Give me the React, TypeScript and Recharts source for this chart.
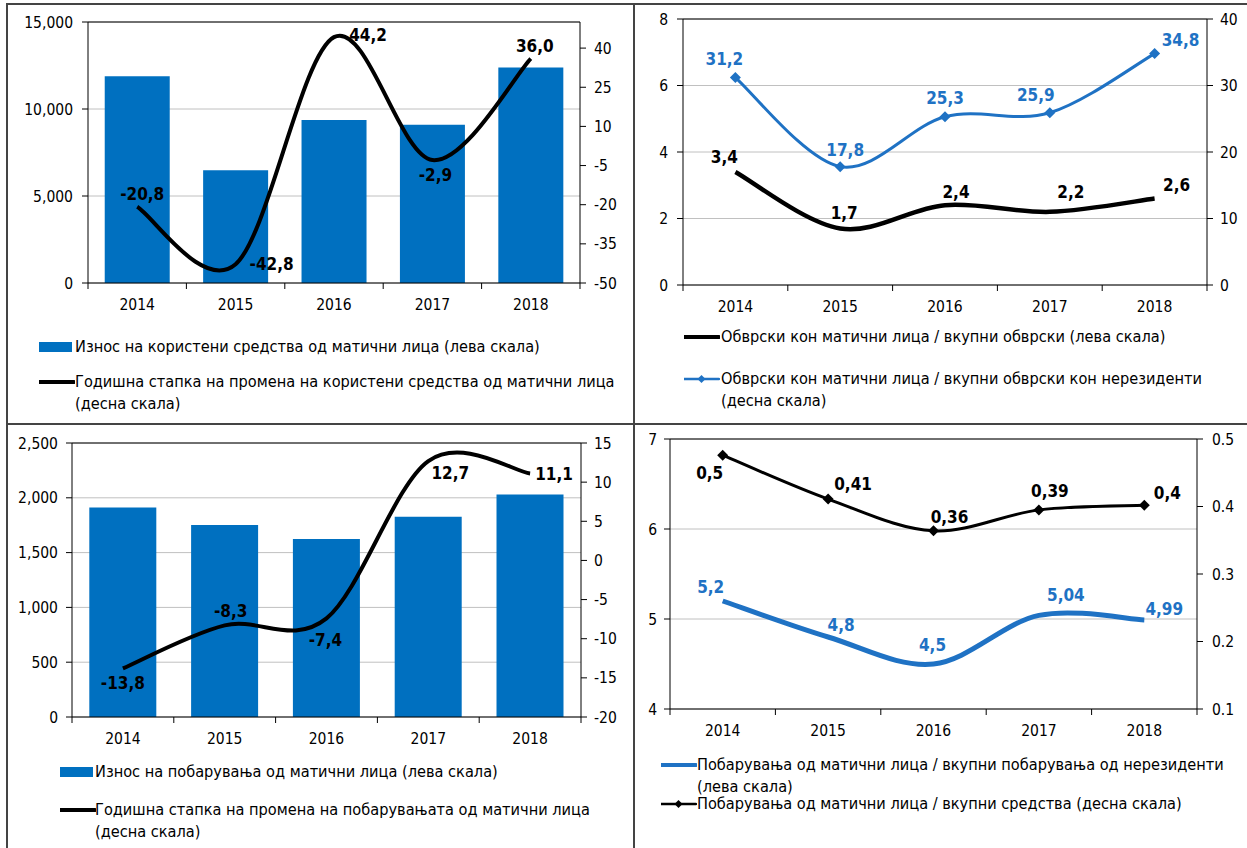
import React from "react";
import {
  Bar,
  CartesianGrid,
  ComposedChart,
  Line,
  ReferenceLine,
  XAxis,
  YAxis,
} from "recharts";

const FONT = "'DejaVu Sans Condensed', 'DejaVu Sans', sans-serif";
const BAR_BLUE = "#0070c0";
const LINE_BLUE = "#1f72c4";

// --- data ---
const years = ["2014", "2015", "2016", "2017", "2018"];

// горе лево
const fundsUsed = [11880, 6480, 9370, 9100, 12380];
const fundsGrowth = [-20.8, -42.8, 44.2, -2.9, 36.0];
const fundsTicks = [0, 5000, 10000, 15000];
const fundsGrowthTicks = [-50, -35, -20, -5, 10, 25, 40];

// горе десно
const liabShareTotal = [3.4, 1.7, 2.4, 2.2, 2.6];
const liabShareNonRes = [31.2, 17.8, 25.3, 25.9, 34.8];
const liabLeftTicks = [0, 2, 4, 6, 8];
const liabRightTicks = [0, 10, 20, 30, 40];

// долу лево
const claimsAmount = [1912, 1751, 1623, 1827, 2031];
const claimsGrowth = [-13.8, -8.3, -7.4, 12.7, 11.1];
const claimsTicks = [0, 500, 1000, 1500, 2000, 2500];
const claimsGrowthTicks = [-20, -15, -10, -5, 0, 5, 10, 15];

// долу десно
const claimsShareNonRes = [5.2, 4.8, 4.5, 5.04, 4.99];
const claimsShareAssets = [0.476, 0.411, 0.364, 0.395, 0.402];
const claimsShareAssetsLabels = ["0,5", "0,41", "0,36", "0,39", "0,4"];
const shareLeftTicks = [4, 5, 6, 7];
const shareRightTicks = [0.1, 0.2, 0.3, 0.4, 0.5];

const fundsData = years.map((year, i) => ({
  year,
  amount: fundsUsed[i],
  growth: fundsGrowth[i],
}));
const liabData = years.map((year, i) => ({
  year,
  total: liabShareTotal[i],
  nonRes: liabShareNonRes[i],
}));
const claimsData = years.map((year, i) => ({
  year,
  amount: claimsAmount[i],
  growth: claimsGrowth[i],
}));
const shareData = years.map((year, i) => ({
  year,
  nonRes: claimsShareNonRes[i],
  assets: claimsShareAssets[i],
}));

// --- layout of the four panels (page pixels) ---
interface Frame {
  left: number;
  top: number;
  width: number;
  height: number;
  plotLeft: number;
  plotRight: number;
  plotTop: number;
  plotBottom: number;
}
const XH = 30;
const P1: Frame = { left: 0, top: 0, width: 634, height: 320, plotLeft: 88, plotRight: 580, plotTop: 22, plotBottom: 283 };
const P2: Frame = { left: 634, top: 0, width: 613, height: 320, plotLeft: 683, plotRight: 1207, plotTop: 19, plotBottom: 285 };
const P3: Frame = { left: 0, top: 424, width: 634, height: 330, plotLeft: 72, plotRight: 581, plotTop: 443, plotBottom: 717 };
const P4: Frame = { left: 634, top: 424, width: 613, height: 330, plotLeft: 670, plotRight: 1197, plotTop: 439, plotBottom: 709 };

const margins = (f: Frame) => ({
  top: f.plotTop - f.top,
  right: 0,
  left: 0,
  bottom: f.top + f.height - f.plotBottom - XH,
});
const leftW = (f: Frame) => f.plotLeft - f.left;
const rightW = (f: Frame) => f.left + f.width - f.plotRight;
const halfBand = (f: Frame) => (f.plotRight - f.plotLeft) / years.length / 2;

// label offsets from each point [dx, dy]
const fundsGrowthOffsets = [[5, -13], [36, 0], [34, -2], [3, 15], [4, -13]];
const liabTotalOffsets = [[-11, -15], [4, -15], [11, -13], [21, -20], [22, -14]];
const liabNonResOffsets = [[-11, -19], [5, -17], [0, -19], [-14, -18], [26, -14]];
const claimsGrowthOffsets = [[0, 15], [6, -14], [-1, 22], [22, 12], [24, 0]];
const shareNonResOffsets = [[-12, -14], [13, -12], [-1, -19], [27, -20], [20, -11]];
const shareAssetsOffsets = [[-13, 18], [25, -15], [16, -14], [11, -19], [23, -12]];

// Excel-like smoothed line: Catmull-Rom through every point
const smooth = (context: any) => {
  let pts: number[][] = [];
  return {
    areaStart() {},
    areaEnd() {},
    lineStart() {
      pts = [];
    },
    point(x: number, y: number) {
      pts.push([+x, +y]);
    },
    lineEnd() {
      const n = pts.length;
      if (!n) return;
      context.moveTo(pts[0][0], pts[0][1]);
      for (let i = 0; i < n - 1; i++) {
        const p0 = pts[i - 1] || pts[i];
        const p1 = pts[i];
        const p2 = pts[i + 1];
        const p3 = pts[i + 2] || p2;
        const t = 1 / 6;
        context.bezierCurveTo(
          p1[0] + (p2[0] - p0[0]) * t,
          p1[1] + (p2[1] - p0[1]) * t,
          p2[0] - (p3[0] - p1[0]) * t,
          p2[1] - (p3[1] - p1[1]) * t,
          p2[0],
          p2[1]
        );
      }
    },
  };
};

const fmt1 = (v: number) => v.toFixed(1).replace(".", ",");
const fmtRaw = (v: number) => String(v).replace(".", ",");
const thousands = (v: number) => v.toLocaleString("en-US");

const AX = { stroke: "#000", strokeWidth: 1 };
const TICK = { fontSize: 15.5, fill: "#000", fontFamily: FONT };

const XTick = ({ x, y, payload, index, half, count }: any) => (
  <g>
    <line x1={x - half} x2={x - half} y1={y} y2={y + 6} stroke="#000" />
    {index === count - 1 && (
      <line x1={x + half} x2={x + half} y1={y} y2={y + 6} stroke="#000" />
    )}
    <text
      x={x}
      y={y + 22}
      textAnchor="middle"
      dominantBaseline="central"
      fontSize={15.5}
      fontFamily={FONT}
      fill="#000"
    >
      {payload.value}
    </text>
  </g>
);

const diamond = (cx: number, cy: number, r: number) =>
  `${cx},${cy - r} ${cx + r},${cy} ${cx},${cy + r} ${cx - r},${cy}`;

// dot renderer: optional diamond marker + bold data label
const pointLabel =
  (texts: string[], offsets: number[][], color: string, marker?: string) =>
  (props: any) => {
    const { cx, cy, index } = props;
    const [dx, dy] = offsets[index];
    return (
      <g key={`pt-${index}`}>
        {marker && <polygon points={diamond(cx, cy, 5.5)} fill={marker} />}
        <text
          x={cx + dx}
          y={cy + dy}
          textAnchor="middle"
          dominantBaseline="central"
          fontWeight="bold"
          fontSize={17}
          fontFamily={FONT}
          fill={color}
        >
          {texts[index]}
        </text>
      </g>
    );
  };

// --- legends ---
const LH = 21.5;
const Symbol = ({ kind, color, thick }: { kind: string; color: string; thick?: number }) => (
  <svg width={36} height={12} style={{ position: "absolute", left: 0, top: -6 }}>
    {kind === "bar" && <rect x={0} y={1} width={33} height={10} fill={color} />}
    {kind !== "bar" && (
      <line x1={0} x2={35} y1={6} y2={6} stroke={color} strokeWidth={thick || 3} strokeLinecap="round" />
    )}
    {kind === "diamond" && <polygon points={diamond(17.5, 6, 4)} fill={color} />}
  </svg>
);

const LegendItem = ({
  x,
  y,
  kind,
  color,
  thick,
  lines,
  textX = 36,
}: {
  x: number;
  y: number;
  kind: string;
  color: string;
  thick?: number;
  lines: string[];
  textX?: number;
}) => (
  <div style={{ position: "absolute", left: x, top: y }}>
    <Symbol kind={kind} color={color} thick={thick} />
    <div
      style={{
        position: "absolute",
        left: textX,
        top: -LH / 2,
        whiteSpace: "nowrap",
        fontSize: 16.2,
        lineHeight: `${LH}px`,
        fontFamily: FONT,
        color: "#000",
      }}
    >
      {lines.map((l) => (
        <div key={l}>{l}</div>
      ))}
    </div>
  </div>
);

const Border = ({ x, y, w, h }: { x: number; y: number; w: number; h: number }) => (
  <div style={{ position: "absolute", left: x, top: y, width: w, height: h, background: "#444" }} />
);

const place = (f: Frame): React.CSSProperties => ({ position: "absolute", left: f.left, top: f.top });

export default function App() {
  return (
    <div
      style={{
        position: "absolute",
        left: 0,
        top: 0,
        width: 1247,
        height: 848,
        background: "#fff",
        overflow: "hidden",
        fontFamily: FONT,
      }}
    >
      {/* Износ на користени средства */}
      <div style={place(P1)}>
        <ComposedChart width={P1.width} height={P1.height} data={fundsData} margin={margins(P1)} barCategoryGap="17%">
          <CartesianGrid yAxisId="left" vertical={false} stroke="#c0c0c0" />
          <XAxis
            dataKey="year"
            interval={0}
            height={XH}
            axisLine={AX}
            tickLine={false}
            tickSize={0}
            tickMargin={0}
            tick={<XTick half={halfBand(P1)} count={years.length} />}
          />
          <YAxis yAxisId="left" width={leftW(P1)} domain={[0, 15000]} ticks={fundsTicks} tickFormatter={thousands} axisLine={AX} tickLine={AX} tick={TICK} tickSize={6} tickMargin={9} interval={0} />
          <YAxis yAxisId="right" orientation="right" width={rightW(P1)} domain={[-50, 50]} ticks={fundsGrowthTicks} axisLine={AX} tickLine={AX} tick={TICK} tickSize={6} tickMargin={8} interval={0} />
          <ReferenceLine yAxisId="left" y={15000} stroke="#000" />
          <Bar yAxisId="left" dataKey="amount" fill={BAR_BLUE} isAnimationActive={false} />
          <Line
            yAxisId="right"
            dataKey="growth"
            type={smooth as any}
            stroke="#000"
            strokeWidth={4}
            dot={pointLabel(fundsGrowth.map(fmt1), fundsGrowthOffsets, "#000")}
            activeDot={false}
            isAnimationActive={false}
          />
        </ComposedChart>
      </div>

      {/* Обврски кон матични лица */}
      <div style={place(P2)}>
        <ComposedChart width={P2.width} height={P2.height} data={liabData} margin={margins(P2)}>
          <CartesianGrid yAxisId="left" vertical={false} stroke="#c0c0c0" />
          <XAxis
            dataKey="year"
            interval={0}
            height={XH}
            padding={{ left: halfBand(P2), right: halfBand(P2) }}
            axisLine={AX}
            tickLine={false}
            tickSize={0}
            tickMargin={0}
            tick={<XTick half={halfBand(P2)} count={years.length} />}
          />
          <YAxis yAxisId="left" width={leftW(P2)} domain={[0, 8]} ticks={liabLeftTicks} axisLine={AX} tickLine={AX} tick={TICK} tickSize={6} tickMargin={9} interval={0} />
          <YAxis yAxisId="right" orientation="right" width={rightW(P2)} domain={[0, 40]} ticks={liabRightTicks} axisLine={AX} tickLine={AX} tick={TICK} tickSize={6} tickMargin={7} interval={0} />
          <ReferenceLine yAxisId="left" y={8} stroke="#000" />
          <Line
            yAxisId="left"
            dataKey="total"
            type={smooth as any}
            stroke="#000"
            strokeWidth={4.5}
            dot={pointLabel(liabShareTotal.map(fmt1), liabTotalOffsets, "#000")}
            activeDot={false}
            isAnimationActive={false}
          />
          <Line
            yAxisId="right"
            dataKey="nonRes"
            type={smooth as any}
            stroke={LINE_BLUE}
            strokeWidth={3}
            dot={pointLabel(liabShareNonRes.map(fmt1), liabNonResOffsets, LINE_BLUE, LINE_BLUE)}
            activeDot={false}
            isAnimationActive={false}
          />
        </ComposedChart>
      </div>

      {/* Износ на побарувања */}
      <div style={place(P3)}>
        <ComposedChart width={P3.width} height={P3.height} data={claimsData} margin={margins(P3)} barCategoryGap="17%">
          <CartesianGrid yAxisId="left" vertical={false} stroke="#c0c0c0" />
          <XAxis
            dataKey="year"
            interval={0}
            height={XH}
            axisLine={AX}
            tickLine={false}
            tickSize={0}
            tickMargin={0}
            tick={<XTick half={halfBand(P3)} count={years.length} />}
          />
          <YAxis yAxisId="left" width={leftW(P3)} domain={[0, 2500]} ticks={claimsTicks} tickFormatter={thousands} axisLine={AX} tickLine={AX} tick={TICK} tickSize={6} tickMargin={8} interval={0} />
          <YAxis yAxisId="right" orientation="right" width={rightW(P3)} domain={[-20, 15]} ticks={claimsGrowthTicks} axisLine={AX} tickLine={AX} tick={TICK} tickSize={6} tickMargin={7} interval={0} />
          <ReferenceLine yAxisId="left" y={2500} stroke="#000" />
          <Bar yAxisId="left" dataKey="amount" fill={BAR_BLUE} isAnimationActive={false} />
          <Line
            yAxisId="right"
            dataKey="growth"
            type={smooth as any}
            stroke="#000"
            strokeWidth={4}
            dot={pointLabel(claimsGrowth.map(fmt1), claimsGrowthOffsets, "#000")}
            activeDot={false}
            isAnimationActive={false}
          />
        </ComposedChart>
      </div>

      {/* Удел на побарувањата */}
      <div style={place(P4)}>
        <ComposedChart width={P4.width} height={P4.height} data={shareData} margin={margins(P4)}>
          <CartesianGrid yAxisId="left" vertical={false} stroke="#c0c0c0" />
          <XAxis
            dataKey="year"
            interval={0}
            height={XH}
            padding={{ left: halfBand(P4), right: halfBand(P4) }}
            axisLine={AX}
            tickLine={false}
            tickSize={0}
            tickMargin={0}
            tick={<XTick half={halfBand(P4)} count={years.length} />}
          />
          <YAxis yAxisId="left" width={leftW(P4)} domain={[4, 7]} ticks={shareLeftTicks} axisLine={AX} tickLine={AX} tick={TICK} tickSize={6} tickMargin={7} interval={0} />
          <YAxis yAxisId="right" orientation="right" width={rightW(P4)} domain={[0.1, 0.5]} ticks={shareRightTicks} tickFormatter={(v: number) => v.toFixed(1)} axisLine={AX} tickLine={AX} tick={TICK} tickSize={6} tickMargin={9} interval={0} />
          <ReferenceLine yAxisId="left" y={7} stroke="#000" />
          <Line
            yAxisId="left"
            dataKey="nonRes"
            type={smooth as any}
            stroke={LINE_BLUE}
            strokeWidth={5}
            dot={pointLabel(claimsShareNonRes.map(fmtRaw), shareNonResOffsets, LINE_BLUE)}
            activeDot={false}
            isAnimationActive={false}
          />
          <Line
            yAxisId="right"
            dataKey="assets"
            type={smooth as any}
            stroke="#000"
            strokeWidth={3}
            dot={pointLabel(claimsShareAssetsLabels, shareAssetsOffsets, "#000", "#000")}
            activeDot={false}
            isAnimationActive={false}
          />
        </ComposedChart>
      </div>

      {/* legends */}
      <LegendItem x={39} y={347} kind="bar" color={BAR_BLUE} lines={["Износ на користени средства од матични лица (лева скала)"]} />
      <LegendItem
        x={39}
        y={382}
        kind="line"
        color="#000"
        thick={4}
        lines={["Годишна стапка на промена на користени средства од матични лица", "(десна скала)"]}
      />
      <LegendItem x={684} y={337} kind="line" color="#000" thick={4} lines={["Обврски кон матични лица / вкупни обврски (лева скала)"]} textX={37} />
      <LegendItem
        x={684}
        y={379}
        kind="diamond"
        color={LINE_BLUE}
        thick={2.5}
        lines={["Обврски кон матични лица / вкупни обврски кон нерезиденти", "(десна скала)"]}
        textX={37}
      />
      <LegendItem x={60} y={772} kind="bar" color={BAR_BLUE} lines={["Износ на побарувања од матични лица (лева скала)"]} textX={35} />
      <LegendItem
        x={60}
        y={810}
        kind="line"
        color="#000"
        thick={4}
        lines={["Годишна стапка на промена на побарувањата од матични лица", "(десна скала)"]}
        textX={35}
      />
      <LegendItem
        x={661}
        y={765}
        kind="line"
        color={LINE_BLUE}
        thick={4}
        lines={["Побарувања од матични лица / вкупни побарувања од нерезиденти", "(лева скала)"]}
      />
      <LegendItem
        x={661}
        y={804}
        kind="diamond"
        color="#000"
        thick={2.5}
        lines={["Побарувања од матични лица / вкупни средства (десна скала)"]}
      />

      {/* panel frame */}
      <Border x={6} y={3} w={1241} h={2} />
      <Border x={6} y={3} w={2} h={845} />
      <Border x={633} y={3} w={2} h={845} />
      <Border x={6} y={423} w={1241} h={2} />
    </div>
  );
}
